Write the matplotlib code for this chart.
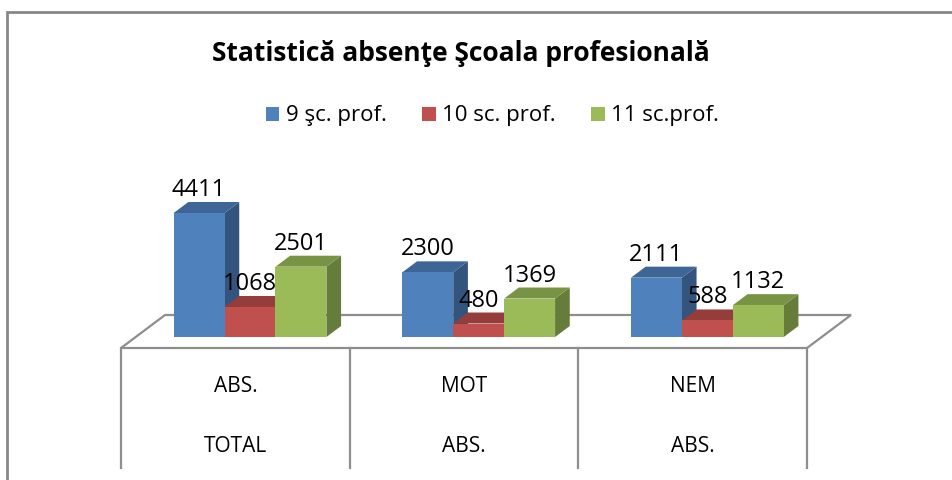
import numpy as np
import matplotlib.pyplot as plt
from matplotlib.patches import Polygon, Rectangle
from matplotlib.lines import Line2D
from matplotlib.transforms import IdentityTransform

plt.rcParams["font.family"] = ["Open Sans", "DejaVu Sans"]

# data
categories = ["ABS. TOTAL", "MOT ABS.", "NEM ABS."]
series_names = ["9 şc. prof.", "10 sc. prof.", "11 sc.prof."]
values_9 = [4411, 2300, 2111]
values_10 = [1068, 480, 588]
values_11 = [2501, 1369, 1132]

FRONT = ["#4F81BD", "#C0504D", "#9BBB59"]
TOP = ["#3D6596", "#943D3B", "#799345"]
SIDE = ["#33547C", "#7E3432", "#667C3A"]
GRID = "#8E8E8E"

W, H = 953, 480
fig = plt.figure(figsize=(W / 100, H / 100), dpi=100)

# axes = front plane of the bars
ax = fig.add_axes([135.7 / W, (H - 337) / H, 686 / W, 140.55 / H])
ax.set_xlim(-0.5, 2.5)
ax.set_ylim(0, 5000)
ax.axis("off")

# oblique depth vector (display px) for the full floor depth
D = np.array([44.0, 33.0])
BAR_D0, BAR_D1 = 1 / 3, 2 / 3
ident = IdentityTransform()


def proj(x, y, depth):
    p = ax.transData.transform((x, y))
    return p + (depth - BAR_D0) * D


# floor
floor = [proj(-0.5, 0, 0), proj(2.5, 0, 0), proj(2.5, 0, 1), proj(-0.5, 0, 1)]
ax.add_patch(Polygon(floor, closed=True, facecolor="white", edgecolor=GRID,
                     lw=1.6, transform=ident, clip_on=False, zorder=1))

# category table below the floor
front_y = floor[0][1]
for e in [-0.5, 0.5, 1.5, 2.5]:
    px = proj(e, 0, 0)[0]
    fig.add_artist(Line2D([px, px], [front_y, H - 468], color=GRID, lw=1.6,
                          transform=ident))

x = np.arange(len(categories))
bw = 0.2227
offsets = [-bw, 0, bw]
series = [values_9, values_10, values_11]

handles = []
for k, vals in enumerate(series):
    bars = ax.bar(x + offsets[k], vals, width=bw, color=FRONT[k], lw=0)
    handles.append(bars)
    for i, b in enumerate(bars):
        z = 10 + i * 3 + k
        b.set_zorder(z + 0.2)
        b.set_clip_on(False)
        xl, xr, v = b.get_x(), b.get_x() + b.get_width(), b.get_height()
        top = [proj(xl, v, BAR_D0), proj(xr, v, BAR_D0),
               proj(xr, v, BAR_D1), proj(xl, v, BAR_D1)]
        side = [proj(xr, 0, BAR_D0), proj(xr, v, BAR_D0),
                proj(xr, v, BAR_D1), proj(xr, 0, BAR_D1)]
        ax.add_patch(Polygon(side, closed=True, facecolor=SIDE[k], lw=0,
                             transform=ident, clip_on=False, zorder=z))
        ax.add_patch(Polygon(top, closed=True, facecolor=TOP[k], lw=0,
                             transform=ident, clip_on=False, zorder=z + 0.1))
        ax.annotate(str(v), xy=(b.get_x() + b.get_width() / 2, v),
                    xytext=(0, D[1] * (BAR_D1 - BAR_D0) + 6),
                    textcoords="offset pixels", ha="center", va="baseline",
                    fontsize=17, zorder=50, annotation_clip=False)

# category labels (two rows)
for i, cat in enumerate(categories):
    first, second = cat.split(" ", 1)
    cx = proj(i, 0, 0)[0]
    fig.text(cx / W, (front_y - 38) / H, first, ha="center", va="center",
             fontsize=15)
    fig.text(cx / W, (front_y - 99) / H, second, ha="center", va="center",
             fontsize=15)

fig.text(461 / W, (H - 61) / H, "Statistică absenţe Şcoala profesională",
         ha="center", va="baseline", fontsize=19, fontweight="bold")

fig.legend(handles=handles, labels=series_names, loc="center",
           bbox_to_anchor=(492.5 / W, (H - 116) / H), ncol=3, frameon=False,
           fontsize=16, handlelength=0.6, handleheight=0.6,
           handletextpad=0.3, columnspacing=1.6)

# chart border (cropped at right and bottom)
fig.add_artist(Rectangle((7 / W, -0.1), 1.2, (H - 12) / H + 0.1,
                         transform=fig.transFigure, fill=False,
                         edgecolor="#878787", lw=2))

fig.savefig("out.png", dpi=100)
